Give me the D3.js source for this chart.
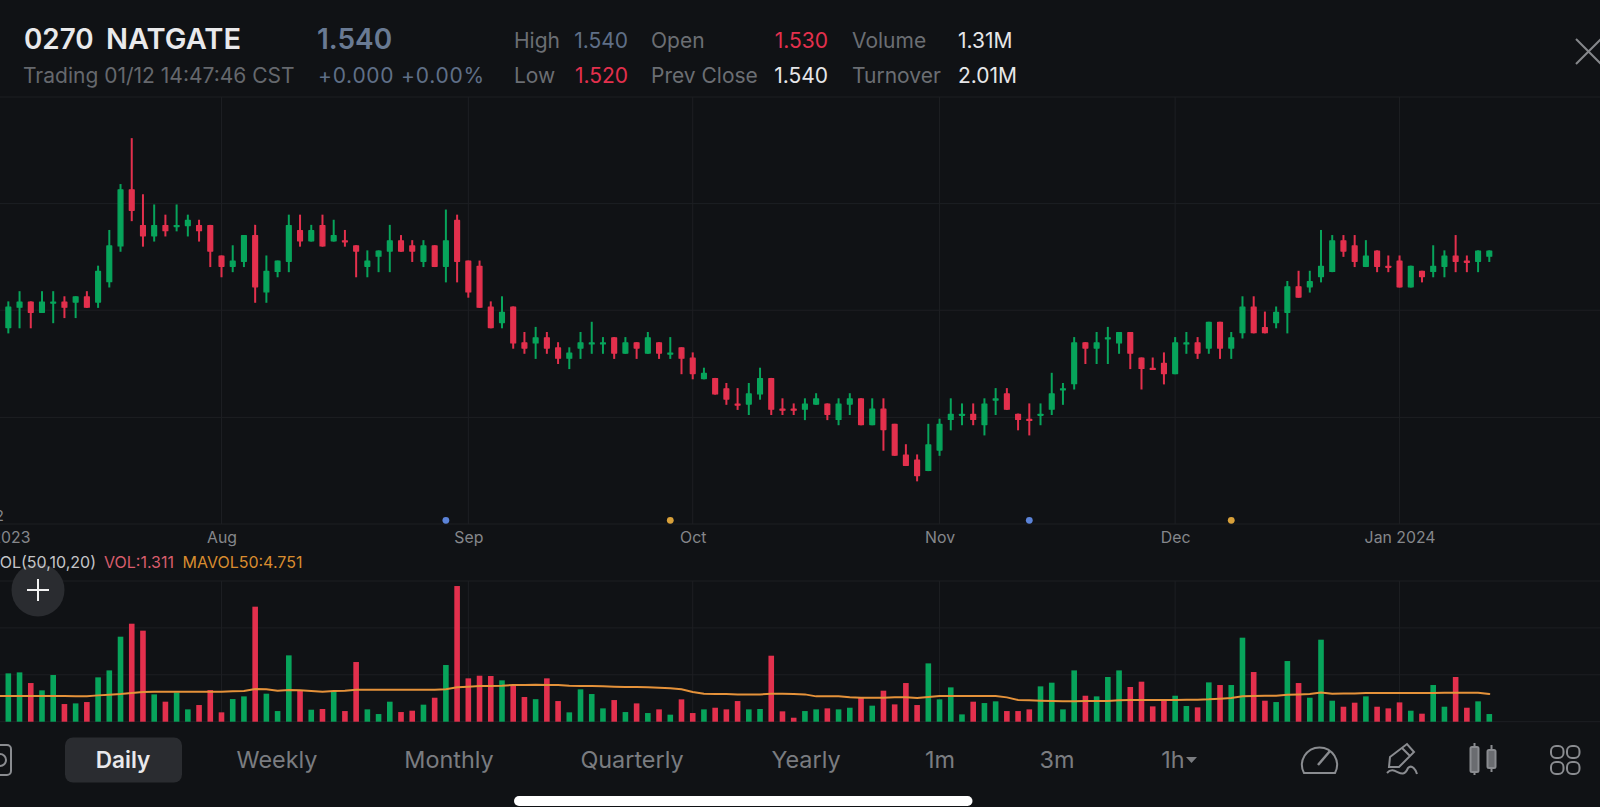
<!DOCTYPE html>
<html>
<head>
<meta charset="utf-8">
<script src="https://d3js.org/d3.v7.min.js"></script>
<style>
  html, body { margin: 0; padding: 0; background: #101215; overflow: hidden; }
  svg { display: block; }
  text { font-family: Inter, "Noto Sans", sans-serif; }
</style>
</head>
<body>
<div id="chart"></div>
<script>
// daily candles, 133 sessions
var opens = [1.39,1.43,1.44,1.42,1.44,1.44,1.44,1.45,1.44,1.48,1.55,1.66,1.59,1.57,1.59,1.59,1.59,1.59,1.59,1.53,
  1.51,1.52,1.57,1.46,1.50,1.52,1.58,1.56,1.59,1.56,1.56,1.55,1.51,1.53,1.54,1.56,1.55,1.52,1.55,1.51,
  1.60,1.52,1.51,1.43,1.40,1.43,1.36,1.36,1.37,1.35,1.33,1.35,1.36,1.36,1.37,1.34,1.36,1.34,1.36,1.34,
  1.35,1.33,1.29,1.29,1.27,1.24,1.24,1.26,1.29,1.23,1.23,1.23,1.24,1.24,1.21,1.24,1.25,1.20,1.23,1.20,
  1.14,1.13,1.11,1.15,1.21,1.22,1.22,1.20,1.25,1.26,1.22,1.21,1.22,1.23,1.27,1.28,1.36,1.35,1.37,1.36,
  1.38,1.33,1.31,1.32,1.30,1.36,1.36,1.35,1.40,1.35,1.38,1.43,1.39,1.40,1.42,1.47,1.47,1.49,1.50,1.56,
  1.55,1.51,1.54,1.51,1.52,1.47,1.50,1.50,1.51,1.53,1.52,1.52,1.53];
var highs = [1.44,1.46,1.44,1.46,1.46,1.45,1.45,1.46,1.51,1.58,1.67,1.76,1.65,1.63,1.61,1.63,1.61,1.60,1.59,1.53,
  1.55,1.57,1.59,1.53,1.52,1.61,1.61,1.59,1.61,1.60,1.58,1.55,1.54,1.54,1.59,1.57,1.56,1.56,1.55,1.62,
  1.61,1.52,1.52,1.44,1.45,1.43,1.38,1.39,1.38,1.36,1.35,1.38,1.40,1.37,1.37,1.37,1.36,1.38,1.36,1.37,
  1.35,1.34,1.31,1.29,1.28,1.27,1.28,1.31,1.29,1.25,1.24,1.25,1.26,1.24,1.25,1.26,1.25,1.25,1.25,1.20,
  1.16,1.14,1.20,1.21,1.25,1.24,1.24,1.25,1.27,1.27,1.22,1.24,1.24,1.30,1.28,1.37,1.36,1.38,1.39,1.38,
  1.38,1.33,1.33,1.34,1.37,1.38,1.37,1.40,1.40,1.38,1.45,1.45,1.42,1.43,1.48,1.50,1.50,1.58,1.57,1.57,
  1.57,1.56,1.54,1.53,1.53,1.51,1.50,1.55,1.54,1.57,1.53,1.54,1.54];
var lows = [1.38,1.39,1.39,1.42,1.40,1.41,1.41,1.43,1.43,1.47,1.54,1.60,1.55,1.56,1.57,1.58,1.57,1.56,1.51,1.49,
  1.50,1.51,1.44,1.44,1.49,1.50,1.55,1.56,1.55,1.56,1.55,1.49,1.49,1.50,1.50,1.54,1.52,1.51,1.51,1.48,
  1.48,1.45,1.43,1.39,1.39,1.35,1.34,1.33,1.34,1.32,1.31,1.33,1.34,1.34,1.33,1.34,1.33,1.34,1.33,1.33,
  1.30,1.29,1.29,1.26,1.24,1.23,1.22,1.25,1.22,1.22,1.22,1.21,1.24,1.21,1.20,1.22,1.20,1.20,1.15,1.14,
  1.12,1.09,1.11,1.14,1.19,1.20,1.20,1.18,1.22,1.23,1.19,1.18,1.20,1.22,1.24,1.27,1.32,1.32,1.32,1.34,
  1.31,1.27,1.31,1.28,1.30,1.34,1.33,1.34,1.33,1.33,1.37,1.38,1.38,1.39,1.38,1.45,1.46,1.48,1.50,1.53,
  1.51,1.51,1.50,1.50,1.47,1.47,1.48,1.49,1.49,1.50,1.50,1.50,1.52];
var closes = [1.43,1.44,1.42,1.44,1.44,1.43,1.45,1.43,1.50,1.55,1.66,1.62,1.57,1.59,1.58,1.59,1.60,1.58,1.54,1.51,
  1.52,1.57,1.47,1.50,1.52,1.59,1.56,1.58,1.55,1.57,1.56,1.54,1.52,1.54,1.56,1.54,1.54,1.55,1.51,1.56,
  1.52,1.46,1.43,1.39,1.42,1.36,1.35,1.37,1.35,1.33,1.34,1.36,1.36,1.36,1.34,1.36,1.35,1.37,1.34,1.34,
  1.33,1.30,1.30,1.26,1.25,1.24,1.26,1.29,1.23,1.23,1.23,1.24,1.25,1.22,1.24,1.25,1.20,1.23,1.19,1.14,
  1.12,1.10,1.16,1.20,1.22,1.22,1.21,1.24,1.25,1.23,1.21,1.21,1.22,1.26,1.27,1.36,1.35,1.36,1.37,1.38,
  1.34,1.31,1.31,1.30,1.36,1.36,1.34,1.40,1.35,1.37,1.43,1.38,1.38,1.42,1.47,1.45,1.48,1.51,1.56,1.54,
  1.52,1.53,1.51,1.51,1.47,1.51,1.49,1.51,1.53,1.52,1.52,1.54,1.54];
// sessions where open equals close but the candle is drawn red
var flatDown = [30,65,69,70,91,102,123,130];

// volume in millions and its 50 day average
var volumes = [8.26,8.43,6.61,5.36,7.98,3.02,3.13,3.36,7.58,8.77,14.53,16.75,15.56,4.67,3.42,5.01,2.11,2.85,5.41,1.60,
  3.87,4.33,19.66,4.79,1.82,11.34,5.36,2.05,2.17,5.24,1.82,10.2,2.11,1.31,3.42,1.65,1.88,2.91,4.10,9.69,
  23.19,7.41,7.86,7.81,7.07,6.27,4.22,3.85,7.41,3.53,1.60,5.53,4.73,2.28,3.70,1.65,3.13,1.48,2.11,1.20,
  3.82,1.48,2.11,2.39,2.11,3.53,2.11,2.17,11.28,1.77,0.68,1.82,2.11,2.28,2.11,2.39,4.10,2.74,5.30,2.96,
  6.61,2.85,9.97,3.82,5.87,1.25,3.42,3.19,3.48,1.82,1.82,2.11,6.04,6.67,2.11,8.77,4.44,4.33,7.64,8.77,
  5.93,6.84,2.62,3.65,4.44,2.68,2.45,6.72,6.27,6.27,14.36,8.49,3.59,3.36,10.37,6.61,4.10,14.02,3.59,2.56,
  3.25,4.33,2.56,2.28,3.30,1.88,1.37,6.27,2.56,7.64,2.39,3.48,1.311];
var mavol = [4.39,4.39,4.39,4.39,4.39,4.39,4.33,4.33,4.50,4.62,4.73,4.90,5.07,5.13,5.13,5.13,5.13,5.13,5.13,5.13,
  5.19,5.24,5.58,5.53,5.30,5.41,5.36,5.24,5.13,5.24,5.30,5.47,5.47,5.47,5.47,5.47,5.47,5.47,5.47,5.53,
  5.87,5.98,6.10,6.10,6.15,6.27,6.27,6.32,6.27,6.27,6.15,6.10,6.10,6.04,5.98,5.93,5.93,5.87,5.81,5.70,
  5.53,5.07,4.79,4.73,4.73,4.67,4.67,4.67,4.79,4.79,4.73,4.67,4.33,4.33,4.33,4.16,4.10,4.10,4.10,4.16,
  4.16,4.05,4.22,4.39,4.39,4.39,4.39,4.39,4.39,4.16,3.70,3.65,3.59,3.53,3.48,3.48,3.53,3.53,3.53,3.65,
  3.70,3.70,3.70,3.70,3.70,3.76,3.76,3.82,3.93,4.05,4.33,4.39,4.44,4.44,4.62,4.67,4.73,5.01,4.79,4.84,
  4.84,4.90,4.90,4.90,4.90,4.90,4.90,4.90,4.96,4.96,4.96,4.96,4.751];
var mavolBefore = 4.39; // session just off the left edge

var monthIndex = [-1,19,41,61,83,104,124];
var monthLabels = ["Jul 2023","Aug","Sep","Oct","Nov","Dec","Jan 2024"];
var priceGrid = [1.842,1.633,1.424,1.214,1.005];
var volumeGrid = [8.02,16.03,24.05];
var blueDots = [39,91];
var orangeDots = [59,109];

var tabs = ["Daily","Weekly","Monthly","Quarterly","Yearly","1m","3m","1h"];

var GREEN = "#07a45b", RED = "#e3304d", GRID = "#1d1f23";

var svg = d3.select("#chart").append("svg").attr("width", 1600).attr("height", 807);
svg.append("rect").attr("width", 1600).attr("height", 807).attr("fill", "#101215");

var x = d3.scaleLinear().domain([0, 132]).range([8.33, 1489.3]);
var y = d3.scaleLinear().domain([1.005, 1.842]).range([524, 97]);
var yVol = d3.scaleLinear().domain([0, 24.05]).range([721.7, 581]);

var candles = d3.range(opens.length).map(function (i) {
    var up = closes[i] > opens[i] || (closes[i] === opens[i] && flatDown.indexOf(i) < 0);
    return { i: i, o: opens[i], h: highs[i], l: lows[i], c: closes[i], v: volumes[i], color: up ? GREEN : RED };
});

// grid
var gridG = svg.append("g").attr("stroke", GRID).attr("stroke-width", 1);
gridG.selectAll(".hp").data(priceGrid).enter().append("line")
    .attr("x1", 0).attr("x2", 1600)
    .attr("y1", function (d) { return y(d); }).attr("y2", function (d) { return y(d); });
gridG.selectAll(".hv").data([0].concat(volumeGrid)).enter().append("line")
    .attr("x1", 0).attr("x2", 1600)
    .attr("y1", function (d) { return yVol(d); }).attr("y2", function (d) { return yVol(d); });
gridG.selectAll(".vp").data(monthIndex).enter().append("line")
    .attr("x1", function (d) { return x(d); }).attr("x2", function (d) { return x(d); })
    .attr("y1", y(1.842)).attr("y2", y(1.005));
gridG.selectAll(".vv").data(monthIndex).enter().append("line")
    .attr("x1", function (d) { return x(d); }).attr("x2", function (d) { return x(d); })
    .attr("y1", yVol(24.05)).attr("y2", yVol(0));

// price label cut off by the left edge
svg.append("text").attr("x", 4).attr("y", 521).attr("text-anchor", "end")
    .attr("font-size", 15).attr("fill", "#85878b").text("1.002");

// candles
var candleG = svg.append("g");
candleG.selectAll(".wick").data(candles).enter().append("line")
    .attr("x1", function (d) { return x(d.i); }).attr("x2", function (d) { return x(d.i); })
    .attr("y1", function (d) { return y(d.h) - 0.7; }).attr("y2", function (d) { return y(d.l) + 0.7; })
    .attr("stroke", function (d) { return d.color; }).attr("stroke-width", 2);
candleG.selectAll(".body").data(candles).enter().append("rect")
    .attr("x", function (d) { return x(d.i) - 2.4; })
    .attr("width", 4.8)
    .attr("y", function (d) { return y(Math.max(d.o, d.c)); })
    .attr("height", function (d) { return Math.max(1, Math.abs(y(d.o) - y(d.c))); })
    .attr("fill", function (d) { return d.color; })
    .attr("stroke", function (d) { return d.color; })
    .attr("stroke-width", 1.3)
    .attr("stroke-linejoin", "round");

// event dots on the bottom of the price panel
svg.selectAll(".blue").data(blueDots).enter().append("circle")
    .attr("cx", function (d) { return x(d); }).attr("cy", 520.3).attr("r", 3.4).attr("fill", "#5b83d8");
svg.selectAll(".orange").data(orangeDots).enter().append("circle")
    .attr("cx", function (d) { return x(d); }).attr("cy", 520.3).attr("r", 3.4).attr("fill", "#d8a03a");

// month labels
var axis = svg.append("g").attr("transform", "translate(0,524)")
    .call(d3.axisBottom(x).tickValues(monthIndex).tickSize(0).tickPadding(0)
        .tickFormat(function (d, i) { return monthLabels[i]; }));
axis.select(".domain").remove();
axis.selectAll("text").attr("y", 19).attr("dy", 0).attr("font-size", 15.8)
    .attr("font-family", "Inter").attr("fill", "#85878b");

// volume
svg.append("g").selectAll("rect").data(candles).enter().append("rect")
    .attr("x", function (d) { return x(d.i) - 2.8; })
    .attr("width", 5.6)
    .attr("y", function (d) { return yVol(d.v); })
    .attr("height", function (d) { return yVol(0) - yVol(d.v); })
    .attr("fill", function (d) { return d.color; });

var line = d3.line()
    .x(function (d) { return x(d.i); })
    .y(function (d) { return yVol(d.v); });
var mavolPoints = [{ i: -1, v: mavolBefore }].concat(mavol.map(function (v, i) { return { i: i, v: v }; }));
svg.append("path").attr("d", line(mavolPoints))
    .attr("fill", "none").attr("stroke", "#e5923a").attr("stroke-width", 2).attr("stroke-linecap", "round");

function label(parent, px, py, size, color, str, anchor, weight) {
    return parent.append("text").attr("x", px).attr("y", py)
        .attr("font-size", size).attr("fill", color)
        .attr("text-anchor", anchor || "start")
        .attr("font-weight", weight || 400).text(str);
}

// plus button sits under the legend text
svg.append("circle").attr("cx", 38).attr("cy", 590).attr("r", 26.5).attr("fill", "#2a2c30");
svg.append("path").attr("d", "M27 590H49M38 579V601").attr("stroke", "#f2f2f2").attr("stroke-width", 2).attr("fill", "none");

// volume legend
label(svg, 96, 568, 16, "#c4c5c8", "VOL(50,10,20)", "end");
label(svg, 104, 568, 16, "#d85d6c", "VOL:1.311");
label(svg, 182.5, 568, 16, "#d98c2f", "MAVOL50:4.751");

// header
label(svg, 24, 49, 27.8, "#e9e9eb", "0270", "start", 600);
label(svg, 106, 49, 29, "#e9e9eb", "NATGATE", "start", 600);
label(svg, 317, 49, 28, "#697a93", "1.540", "start", 600);
label(svg, 23, 83, 21, "#65686d", "Trading 01/12 14:47:46 CST");
label(svg, 318, 83, 21, "#5f6f87", "+0.000 +0.00%").attr("letter-spacing", 0.75);
label(svg, 514, 48, 21, "#6b6e73", "High");
label(svg, 514, 83, 21, "#6b6e73", "Low");
label(svg, 628, 48, 21, "#5f6f87", "1.540", "end");
label(svg, 628, 83, 21, RED, "1.520", "end");
label(svg, 651, 48, 21, "#6b6e73", "Open");
label(svg, 651, 83, 21, "#6b6e73", "Prev Close");
label(svg, 828, 48, 21, RED, "1.530", "end");
label(svg, 828, 83, 21, "#e6e6e8", "1.540", "end");
label(svg, 852, 48, 21, "#6b6e73", "Volume");
label(svg, 852, 83, 21, "#6b6e73", "Turnover");
label(svg, 958, 48, 21, "#e6e6e8", "1.31M");
label(svg, 958, 83, 21, "#e6e6e8", "2.01M");

// close cross, cut by the right edge
svg.append("path").attr("d", "M1576 39L1601 64M1576 64L1601 39")
    .attr("stroke", "#85878b").attr("stroke-width", 2).attr("fill", "none");

// bottom bar
svg.append("rect").attr("x", 65).attr("y", 737.5).attr("width", 117).attr("height", 45).attr("rx", 8).attr("fill", "#2a2c30");
var tabX = [123, 277, 449, 632, 806, 940, 1057, 1173];
tabs.forEach(function (t, i) {
    label(svg, tabX[i], 768, i === 0 ? 22.6 : 23.4, i === 0 ? "#e9e9eb" : "#7a7c80", t, "middle", i === 0 ? 600 : 400);
});
svg.append("path").attr("d", "M1186 757H1197L1191.5 763Z").attr("fill", "#7a7c80");

var icons = svg.append("g").attr("stroke", "#8a8c90").attr("stroke-width", 2).attr("fill", "none");
// left icon, mostly off screen
icons.append("rect").attr("x", -20).attr("y", 745).attr("width", 31).attr("height", 30).attr("rx", 4);
icons.append("circle").attr("cx", 0).attr("cy", 760).attr("r", 6);
// gauge
icons.append("path").attr("d", "M1304 773A17.5 17.5 0 1 1 1335 773Z");
icons.append("path").attr("d", "M1318 765L1330 751").attr("stroke-width", 2.5);
// pencil
icons.append("path").attr("d", "M1390 757L1407 744L1414 752L1399 767H1389Z M1402 748L1410 756");
icons.append("path").attr("d", "M1387 773C1395 764 1402 782 1408 768C1412 764 1416 770 1417 774");
// candle pair
icons.append("path").attr("d", "M1474.5 743V775M1491.5 745V772");
icons.append("rect").attr("x", 1470.5).attr("y", 747).attr("width", 8).attr("height", 25).attr("rx", 1.5).attr("fill", "#6a6c70");
icons.append("rect").attr("x", 1487.5).attr("y", 750).attr("width", 8).attr("height", 18).attr("rx", 1.5).attr("fill", "#6a6c70");
// four squares
[[1551, 746], [1567, 746], [1551, 762], [1567, 762]].forEach(function (p) {
    icons.append("rect").attr("x", p[0]).attr("y", p[1]).attr("width", 12.5).attr("height", 12).attr("rx", 5);
});

// home indicator
svg.append("rect").attr("x", 514).attr("y", 796).attr("width", 458.5).attr("height", 10).attr("rx", 5).attr("fill", "#ffffff");
</script>
</body>
</html>
